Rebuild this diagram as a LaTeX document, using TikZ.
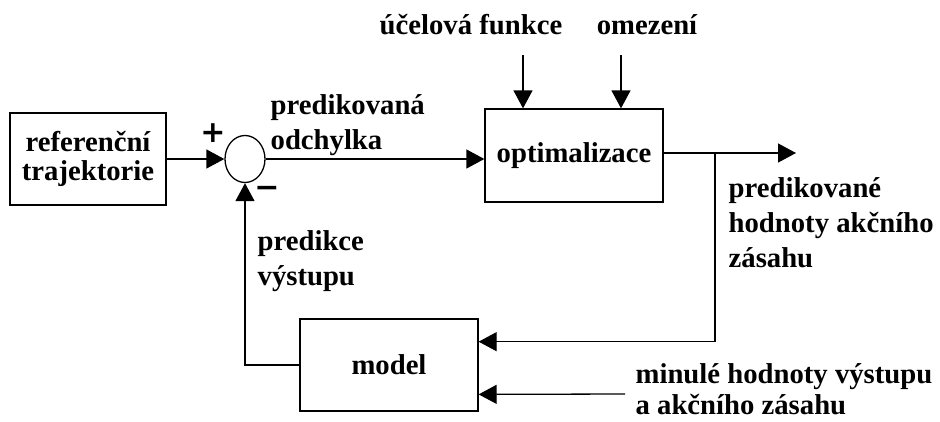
\documentclass[tikz,border=0pt]{standalone}
\usepackage{fontspec}
\setmainfont{Liberation Serif}
\newfontfamily\signfont{DejaVu Sans}
\usetikzlibrary{shapes.geometric,arrows.meta,calc}
\begin{document}
\begin{tikzpicture}[x=1pt,y=-1pt,
  line width=1.3pt,
  box/.style={draw,rectangle,inner sep=0pt,font=\fontsize{28.7}{29}\selectfont\bfseries,align=center},
  arr/.style={-{Triangle[length=18pt,width=19pt]}},
  lbl/.style={inner sep=0pt,font=\fontsize{28.7}{35}\selectfont\bfseries,align=left},
  sign/.style={inner sep=0pt,font=\signfont\fontsize{30}{30}\selectfont\bfseries},
]
\useasboundingbox (0,0) rectangle (940,421);
% blocks
\node[box,minimum width=156pt,minimum height=92pt] (ref) at (88,159) {referenční\\trajektorie};
\node[draw,ellipse,inner sep=0pt,minimum width=40pt,minimum height=47pt] (sum) at (245,159) {};
\node[box,minimum width=178pt,minimum height=93pt] (opt) at (574,155.5) {optimalizace};
\node[box,minimum width=178pt,minimum height=92pt] (model) at (389,365) {model};
% signs
\node[sign] (plus) at (213,133) {+};
\node[sign] (minus) at (267,192) {\char"2212};
% labels
\node[lbl,anchor=west] (odch) at (270,125) {predikovaná\\odchylka};
\node[lbl] (ucel) at (471,25) {účelová funkce};
\node[lbl] (omez) at (647,25) {omezení};
\node[lbl,anchor=west] (predhod) at (728,223) {predikované\\hodnoty akčního\\zásahu};
\node[lbl,anchor=west] (predvys) at (257,261) {predikce\\výstupu};
\node[lbl,anchor=west,font=\fontsize{28.7}{31}\selectfont\bfseries] (minule) at (635,389) {minulé hodnoty výstupu\\a akčního zásahu};
% coordinates
\coordinate (f1) at (523,55);
\coordinate (f2) at (621,55);
\coordinate (out) at (796,153);
\coordinate (br) at (715,153);
\coordinate (past) at (625,394);
\coordinate (m1) at ($(model.north east)!0.25!(model.south east)$);
\coordinate (m2) at ($(model.north east)!0.815!(model.south east)$);
% connectors
\draw[arr] (ref) -- (sum);
\draw[arr] (sum.east) -- (sum.east -| opt.west);
\draw[arr] (f1) -- (f1 |- opt.north);
\draw[arr] (f2) -- (f2 |- opt.north);
\draw[arr] (opt.east |- out) -- (out);
\draw[arr] (br) |- (m1);
\draw[arr] (past) -- (m2);
\draw[arr] (model.west) -| (sum.south);
\end{tikzpicture}
\end{document}
